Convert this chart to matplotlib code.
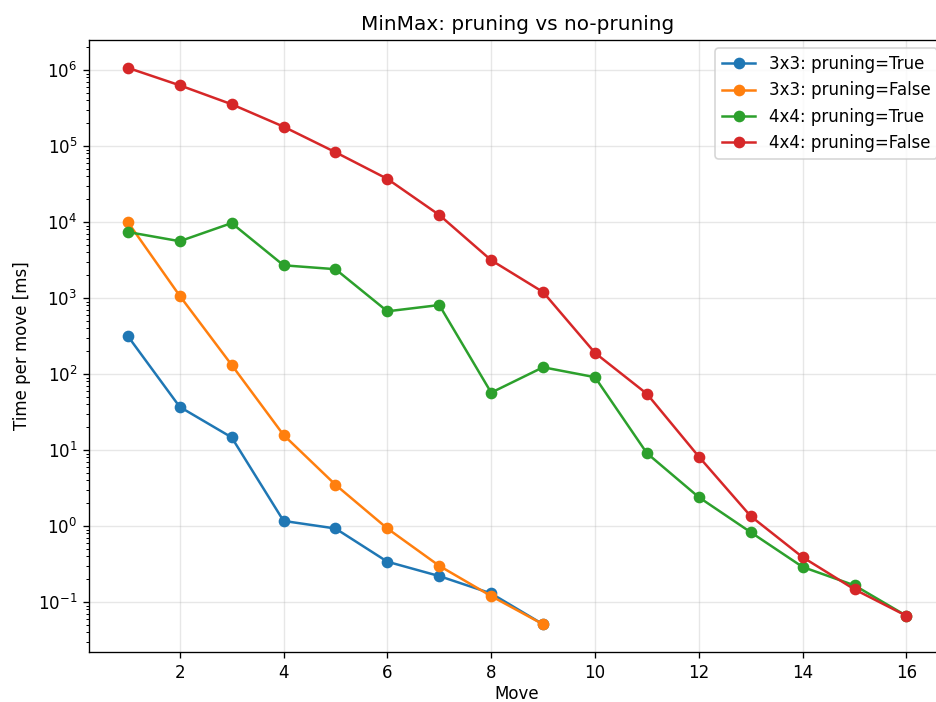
import matplotlib
matplotlib.use("Agg")
import matplotlib.pyplot as plt

# ---------- données ----------
moves_3x3 = [1, 2, 3, 4, 5, 6, 7, 8, 9]
moves_4x4 = list(range(1, 17))

t_3x3_pruning = [316, 37, 14.7, 1.17, 0.93, 0.34, 0.22, 0.13, 0.051]
t_3x3_no_pruning = [10000, 1070, 132, 15.8, 3.5, 0.93, 0.30, 0.12, 0.051]
t_4x4_pruning = [7400, 5600, 9700, 2700, 2400, 670, 810, 57, 123, 91,
                 9.1, 2.4, 0.83, 0.29, 0.166, 0.066]
t_4x4_no_pruning = [1.07e6, 6.3e5, 3.55e5, 1.8e5, 8.3e4, 3.7e4, 1.24e4, 3150,
                    1200, 190, 55, 8.2, 1.35, 0.39, 0.147, 0.066]
# ---------------------------------------------------

DPI = 120


def main():
    # la figure d'origine est rognée à droite : l'axe dépasse un peu le bord
    fig = plt.figure(figsize=(936 / DPI, 702 / DPI), dpi=DPI)
    ax = fig.add_axes([0.095, 0.071, 0.915, 0.872])
    ax.plot(moves_3x3, t_3x3_pruning, marker="o", label="3x3: pruning=True")
    ax.plot(moves_3x3, t_3x3_no_pruning, marker="o", label="3x3: pruning=False")
    ax.plot(moves_4x4, t_4x4_pruning, marker="o", label="4x4: pruning=True")
    ax.plot(moves_4x4, t_4x4_no_pruning, marker="o", label="4x4: pruning=False")
    ax.set_yscale("log")
    ax.set_xlabel("Move", labelpad=2)
    ax.set_ylabel("Time per move [ms]")
    ax.set_title("MinMax: pruning vs no-pruning")
    ax.grid(True, alpha=0.3)
    ax.legend()
    fig.savefig("out.png", dpi=DPI)


if __name__ == "__main__":
    main()
